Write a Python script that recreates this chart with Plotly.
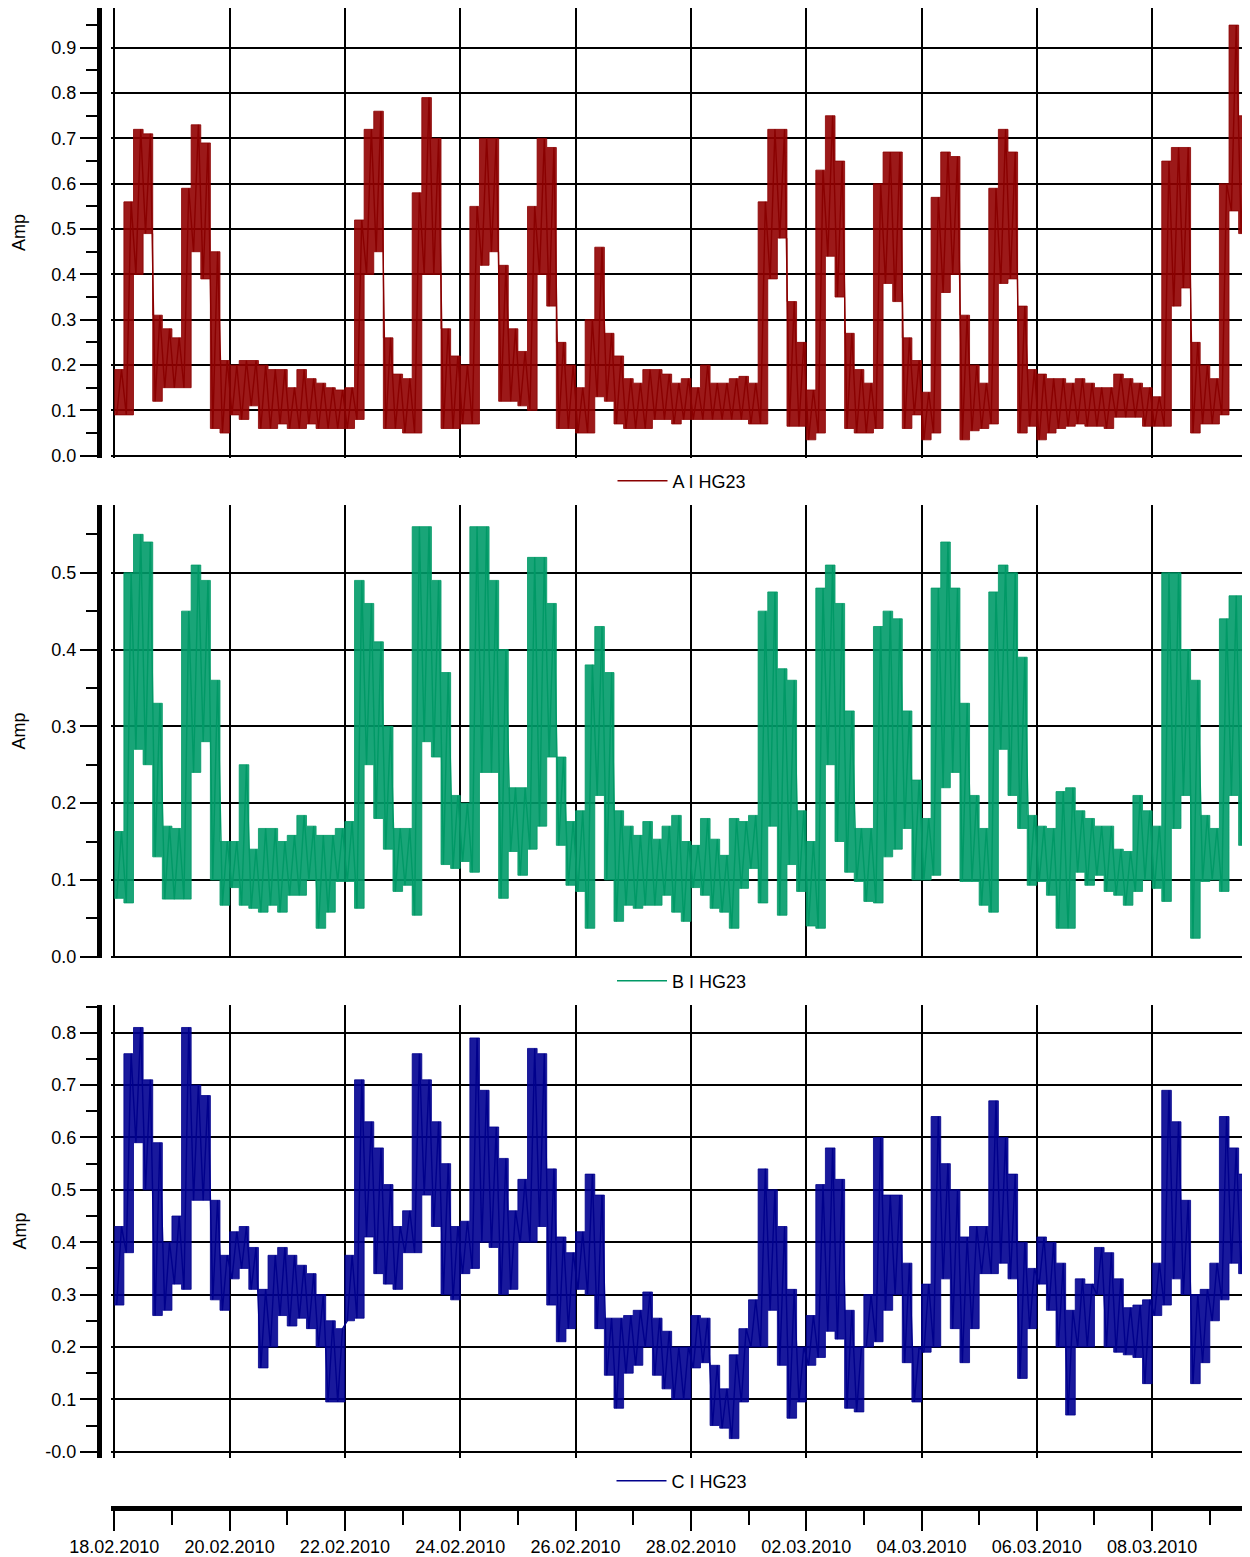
import pandas as pd
import plotly.graph_objects as go

# ---------------- data (4-hour bins starting 18.02.2010 00:00; low / high envelope per bin) ----------------
start_time = "2010-02-18 00:00"
bin_hours = 4

a_lo = [0.09,0.09,0.40,0.49,0.12,0.15, 0.15,0.15,0.45,0.39,0.06,0.05, 0.09,0.08,0.11,0.06,0.06,0.07,
        0.06,0.06,0.07,0.06,0.06,0.06, 0.06,0.08,0.40,0.45,0.06,0.06, 0.05,0.05,0.40,0.40,0.06,0.06,
        0.07,0.07,0.42,0.45,0.12,0.12, 0.11,0.10,0.40,0.33,0.06,0.06, 0.05,0.05,0.13,0.12,0.07,0.06,
        0.06,0.06,0.08,0.08,0.07,0.08, 0.08,0.08,0.08,0.08,0.08,0.08, 0.07,0.07,0.39,0.48,0.065,0.065,
        0.035,0.05,0.44,0.35,0.06,0.05, 0.05,0.06,0.38,0.34,0.06,0.09, 0.035,0.05,0.36,0.40,0.035,0.055,
        0.06,0.07,0.38,0.39,0.05,0.065, 0.035,0.05,0.06,0.065,0.07,0.065, 0.065,0.06,0.085,0.085,0.085,0.065,
        0.065,0.065,0.33,0.37,0.05,0.07, 0.07,0.09,0.54,0.49,0.25]
a_hi = [0.19,0.56,0.72,0.71,0.31,0.28, 0.26,0.59,0.73,0.69,0.45,0.21, 0.20,0.21,0.21,0.20,0.19,0.19,
        0.15,0.19,0.17,0.16,0.15,0.145, 0.15,0.52,0.72,0.76,0.26,0.18, 0.17,0.58,0.79,0.70,0.28,0.22,
        0.20,0.55,0.70,0.70,0.42,0.28, 0.23,0.55,0.70,0.68,0.25,0.20, 0.15,0.30,0.46,0.27,0.22,0.17,
        0.16,0.19,0.19,0.18,0.16,0.17, 0.15,0.20,0.16,0.16,0.17,0.175, 0.16,0.56,0.72,0.72,0.34,0.25,
        0.145,0.63,0.75,0.65,0.27,0.19, 0.16,0.60,0.67,0.67,0.26,0.21, 0.14,0.57,0.67,0.66,0.31,0.20,
        0.16,0.59,0.72,0.67,0.33,0.19, 0.18,0.17,0.17,0.16,0.17,0.16, 0.15,0.15,0.18,0.17,0.16,0.15,
        0.13,0.65,0.68,0.68,0.25,0.20, 0.17,0.60,0.95,0.75,0.55]

b_lo = [0.076,0.07,0.27,0.25,0.13,0.075, 0.075,0.075,0.24,0.28,0.10,0.067, 0.09,0.067,0.063,0.058,0.067,0.058,
        0.08,0.08,0.10,0.037,0.058,0.098, 0.098,0.063,0.25,0.18,0.14,0.085, 0.093,0.054,0.28,0.26,0.12,0.115,
        0.124,0.11,0.24,0.24,0.076,0.137, 0.106,0.14,0.17,0.26,0.145,0.093, 0.085,0.037,0.21,0.10,0.046,0.067,
        0.063,0.067,0.067,0.08,0.058,0.046, 0.09,0.08,0.063,0.058,0.037,0.089, 0.115,0.07,0.17,0.054,0.12,0.085,
        0.04,0.037,0.25,0.15,0.11,0.098, 0.072,0.07,0.13,0.14,0.167,0.10, 0.10,0.106,0.22,0.24,0.098,0.098,
        0.067,0.058,0.27,0.21,0.167,0.093, 0.098,0.08,0.037,0.037,0.11,0.093, 0.106,0.085,0.08,0.067,0.085,0.10,
        0.089,0.072,0.167,0.21,0.024,0.098, 0.10,0.085,0.21,0.145,0.21]
b_hi = [0.163,0.50,0.55,0.54,0.33,0.17, 0.167,0.45,0.51,0.49,0.36,0.15, 0.15,0.25,0.14,0.167,0.167,0.15,
        0.158,0.184,0.17,0.158,0.158,0.167, 0.176,0.49,0.46,0.41,0.30,0.167, 0.167,0.56,0.56,0.49,0.37,0.21,
        0.20,0.56,0.56,0.49,0.40,0.22, 0.22,0.52,0.52,0.46,0.26,0.176, 0.19,0.38,0.43,0.37,0.19,0.17,
        0.158,0.176,0.153,0.17,0.184,0.15, 0.145,0.18,0.153,0.132,0.18,0.176, 0.184,0.45,0.475,0.375,0.36,0.19,
        0.15,0.48,0.51,0.46,0.32,0.167, 0.167,0.43,0.45,0.44,0.32,0.23, 0.18,0.48,0.54,0.48,0.33,0.21,
        0.167,0.475,0.51,0.50,0.39,0.184, 0.17,0.167,0.215,0.22,0.19,0.18, 0.17,0.17,0.14,0.137,0.21,0.19,
        0.17,0.50,0.50,0.40,0.36,0.184, 0.167,0.44,0.47,0.47,0.47]

c_lo = [0.28,0.38,0.59,0.50,0.26,0.27, 0.32,0.31,0.48,0.48,0.29,0.27, 0.33,0.35,0.31,0.16,0.20,0.26,
        0.24,0.255,0.235,0.20,0.095,0.095, 0.25,0.255,0.41,0.34,0.32,0.31, 0.38,0.38,0.49,0.43,0.30,0.29,
        0.34,0.35,0.40,0.39,0.30,0.31, 0.40,0.40,0.43,0.28,0.21,0.235, 0.31,0.30,0.235,0.146,0.083,0.15,
        0.165,0.20,0.146,0.12,0.10,0.10, 0.16,0.17,0.05,0.045,0.025,0.095, 0.20,0.20,0.27,0.165,0.064,0.095,
        0.165,0.18,0.23,0.215,0.083,0.076, 0.20,0.21,0.27,0.30,0.17,0.095, 0.19,0.20,0.33,0.235,0.17,0.235,
        0.34,0.34,0.36,0.33,0.14,0.235, 0.32,0.27,0.20,0.07,0.20,0.20, 0.30,0.20,0.19,0.185,0.18,0.13,
        0.26,0.28,0.33,0.30,0.13,0.17, 0.25,0.29,0.36,0.34,0.27]
c_hi = [0.43,0.76,0.81,0.71,0.59,0.40, 0.45,0.81,0.70,0.68,0.48,0.375, 0.42,0.43,0.39,0.31,0.375,0.39,
        0.375,0.356,0.34,0.30,0.25,0.235, 0.375,0.71,0.63,0.58,0.51,0.43, 0.46,0.76,0.71,0.63,0.55,0.43,
        0.44,0.79,0.69,0.62,0.56,0.46, 0.52,0.77,0.76,0.54,0.41,0.38, 0.42,0.53,0.49,0.255,0.255,0.26,
        0.27,0.305,0.255,0.23,0.20,0.20, 0.26,0.255,0.165,0.12,0.185,0.235, 0.29,0.54,0.50,0.43,0.31,0.20,
        0.26,0.51,0.58,0.52,0.27,0.20, 0.30,0.60,0.49,0.49,0.36,0.20, 0.32,0.64,0.55,0.50,0.41,0.43,
        0.43,0.67,0.60,0.53,0.40,0.35, 0.41,0.40,0.36,0.27,0.33,0.32, 0.39,0.38,0.33,0.275,0.28,0.29,
        0.36,0.69,0.63,0.48,0.30,0.31, 0.36,0.64,0.58,0.53,0.45]

series_names = ["A I HG23", "B I HG23", "C I HG23"]
series_colors = ["#8a0000", "#009966", "#00008c"]
band_colors = ["rgba(145,0,0,0.9)", "rgba(0,155,105,0.9)", "rgba(0,0,145,0.9)"]

y1_ticks = [0.0, 0.1, 0.2, 0.3, 0.4, 0.5, 0.6, 0.7, 0.8, 0.9]
y2_ticks = [0.0, 0.1, 0.2, 0.3, 0.4, 0.5]
y3_ticks = [0.0, 0.1, 0.2, 0.3, 0.4, 0.5, 0.6, 0.7, 0.8]
y3_ticktext = ["-0.0", "0.1", "0.2", "0.3", "0.4", "0.5", "0.6", "0.7", "0.8"]

x_range = ["2010-02-17 22:38", "2010-03-09 16:44"]
y_ranges = [[-0.0051, 0.9877], [-0.0017, 0.5882], [-0.012, 0.8529]]

# ---------------- helpers ----------------
t0 = pd.Timestamp(start_time)


def zigzag(lo, hi):
    xs, ys = [], []
    for i, (l, h) in enumerate(zip(lo, hi)):
        xs.append(t0 + pd.Timedelta(hours=bin_hours * i + 1))
        ys.append(l)
        xs.append(t0 + pd.Timedelta(hours=bin_hours * i + 3))
        ys.append(h)
    return xs, ys


def band(lo, hi):
    fx, fy, bx, by = [], [], [], []
    for i, (l, h) in enumerate(zip(lo, hi)):
        s = t0 + pd.Timedelta(hours=bin_hours * i)
        e = t0 + pd.Timedelta(hours=bin_hours * (i + 1))
        fx += [s, e]
        fy += [h, h]
        bx += [s, e]
        by += [l, l]
    return fx + bx[::-1], fy + by[::-1]


# the page body has an 8 px margin: lay the figure out in page pixels minus that offset
OFF = 8
PAGE_W, PAGE_H = 1250, 1557
W, H = PAGE_W - OFF, PAGE_H - OFF


def px_x(p):
    return min(1.0, max(0.0, (p - OFF) / W))


def px_y(p):
    return min(1.0, max(0.0, 1 - (p - OFF) / H))


x_dom = [px_x(111), 1.0]
y_doms = [[px_y(458), 1.0], [px_y(958), px_y(505)], [px_y(1458), px_y(1005)]]
legend_y = [px_y(481), px_y(981), px_y(1481)]
amp_y = [(px_y(458) + px_y(5)) / 2, (y_doms[1][0] + y_doms[1][1]) / 2, (y_doms[2][0] + y_doms[2][1]) / 2]

fig = go.Figure()
data = [(a_lo, a_hi), (b_lo, b_hi), (c_lo, c_hi)]
for k, (lo, hi) in enumerate(data):
    xa = "x" if k == 0 else f"x{k+1}"
    ya = "y" if k == 0 else f"y{k+1}"
    bx, by = band(lo, hi)
    fig.add_trace(go.Scatter(
        x=bx, y=by, mode="lines", fill="toself", fillcolor=band_colors[k],
        line=dict(width=0.8, color=series_colors[k]), hoverinfo="skip",
        xaxis=xa, yaxis=ya, showlegend=False,
    ))
    xs, ys = zigzag(lo, hi)
    fig.add_trace(go.Scatter(
        x=xs, y=ys, mode="lines", name=series_names[k],
        line=dict(color=series_colors[k], width=1.4),
        xaxis=xa, yaxis=ya,
        legend="legend" if k == 0 else f"legend{k+1}", showlegend=True,
    ))

# empty trace for the shared bottom date axis
fig.add_trace(go.Scatter(x=[], y=[], xaxis="x4", yaxis="y4", showlegend=False))

font_family = "Liberation Sans, Arial, sans-serif"
FS = 18
layout = dict(
    width=W, height=H, margin=dict(l=0, r=0, t=0, b=0, pad=0, autoexpand=False),
    paper_bgcolor="white", plot_bgcolor="white", showlegend=True,
    font=dict(family=font_family, size=FS, color="black"),
)

y_ticks_all = [y1_ticks, y2_ticks, y3_ticks]
for k in range(3):
    xn = "xaxis" if k == 0 else f"xaxis{k+1}"
    yn = "yaxis" if k == 0 else f"yaxis{k+1}"
    ya = "y" if k == 0 else f"y{k+1}"
    layout[xn] = dict(
        domain=x_dom, anchor=ya, type="date", range=x_range, automargin=False,
        tick0="2010-02-18", dtick=2 * 86400000,
        showgrid=True, gridcolor="black", gridwidth=2,
        showticklabels=False, ticks="", showline=False, zeroline=False,
    )
    yd = dict(
        domain=y_doms[k], anchor="free", position=px_x(99), range=y_ranges[k], automargin=False,
        showline=True, linecolor="black", linewidth=5,
        ticks="outside", ticklen=17, tickwidth=2, tickcolor="black",
        tickmode="array", tickvals=y_ticks_all[k],
        showgrid=True, gridcolor="black", gridwidth=2, zeroline=False,
        tickfont=dict(size=FS, color="black"),
        minor=dict(tickmode="linear", tick0=0, dtick=0.05, ticks="outside",
                   ticklen=11, tickwidth=2, tickcolor="black", showgrid=False),
    )
    if k == 2:
        yd["ticktext"] = y3_ticktext
    else:
        yd["ticktext"] = [f"{v:.1f}" for v in y_ticks_all[k]]
    layout[yn] = yd
    ln = "legend" if k == 0 else f"legend{k+1}"
    layout[ln] = dict(
        x=px_x(682), y=legend_y[k], xanchor="center", yanchor="middle",
        orientation="h", bgcolor="rgba(0,0,0,0)", font=dict(size=FS, color="black"),
        itemwidth=50, visible=True,
    )

layout["xaxis4"] = dict(
    domain=x_dom, anchor="y4", type="date", range=x_range, automargin=False,
    tick0="2010-02-18", dtick=2 * 86400000, tickformat="%d.%m.%Y",
    showline=True, linecolor="black", linewidth=5,
    ticks="outside", ticklen=20, tickwidth=2, tickcolor="black",
    showgrid=False, zeroline=False, tickfont=dict(size=FS, color="black"),
    minor=dict(tickmode="linear", tick0="2010-02-18", dtick=86400000, ticks="outside",
               ticklen=14, tickwidth=2, tickcolor="black", showgrid=False),
)
layout["yaxis4"] = dict(domain=[px_y(1506), px_y(1504)], anchor="x4", visible=False,
                        range=[0, 1], automargin=False)

annotations = []
for k in range(3):
    annotations.append(dict(
        text="Amp", x=px_x(19), y=amp_y[k], xref="paper", yref="paper",
        textangle=-90, showarrow=False, font=dict(size=FS, color="black"),
        xanchor="center", yanchor="middle",
    ))
layout["annotations"] = annotations

fig.update_layout(**layout)
fig.write_html("out.html")
